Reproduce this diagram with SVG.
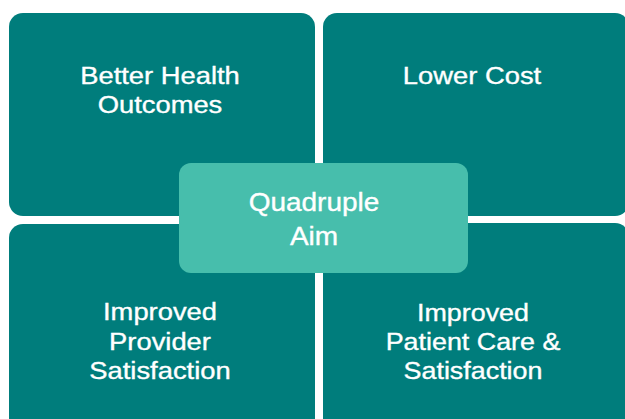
<svg xmlns="http://www.w3.org/2000/svg" width="625" height="419" viewBox="0 0 625 419">
  <style>
    .quad { fill: #007D7C; }
    .hub { fill: #47BEAC; }
    .lbl { font-family: "Liberation Sans", Arial, sans-serif; font-size: 24px; fill: #FFFFFF; stroke: #FFFFFF; stroke-width: 0.35px; text-anchor: middle; }
    .hubl { font-size: 25px; }
  </style>
  <rect x="0" y="0" width="625" height="419" fill="#FFFFFF"/>
  <g id="connectors"></g>
  <g id="node-better-health">
    <rect class="quad" x="9" y="13" width="306" height="203" rx="14" ry="14"/>
    <g transform="translate(160 0) scale(1.14 1)">
      <text class="lbl" x="0" y="84.5">Better Health</text>
      <text class="lbl" x="0" y="113">Outcomes</text>
    </g>
  </g>
  <g id="node-lower-cost">
    <rect class="quad" x="323" y="13" width="306" height="203" rx="14" ry="14"/>
    <g transform="translate(472 0) scale(1.14 1)">
      <text class="lbl" x="0" y="84.5">Lower Cost</text>
    </g>
  </g>
  <g id="node-provider">
    <rect class="quad" x="9" y="224" width="306" height="215" rx="14" ry="14"/>
    <g transform="translate(160 0) scale(1.14 1)">
      <text class="lbl" x="0" y="320.5">Improved</text>
      <text class="lbl" x="0" y="350">Provider</text>
      <text class="lbl" x="0" y="379.5">Satisfaction</text>
    </g>
  </g>
  <g id="node-patient">
    <rect class="quad" x="323" y="223" width="306" height="216" rx="14" ry="14"/>
    <g transform="translate(473 0) scale(1.12 1)">
      <text class="lbl" x="0" y="321">Improved</text>
      <text class="lbl" x="0" y="350">Patient Care &amp;</text>
      <text class="lbl" x="0" y="379.5">Satisfaction</text>
    </g>
  </g>
  <g id="node-quadruple-aim">
    <rect class="hub" x="179" y="163" width="289" height="110" rx="12" ry="12"/>
    <g transform="translate(314 0) scale(1.12 1)">
      <text class="lbl hubl" x="0" y="211.5">Quadruple</text>
      <text class="lbl hubl" x="0" y="245.5">Aim</text>
    </g>
  </g>
</svg>
